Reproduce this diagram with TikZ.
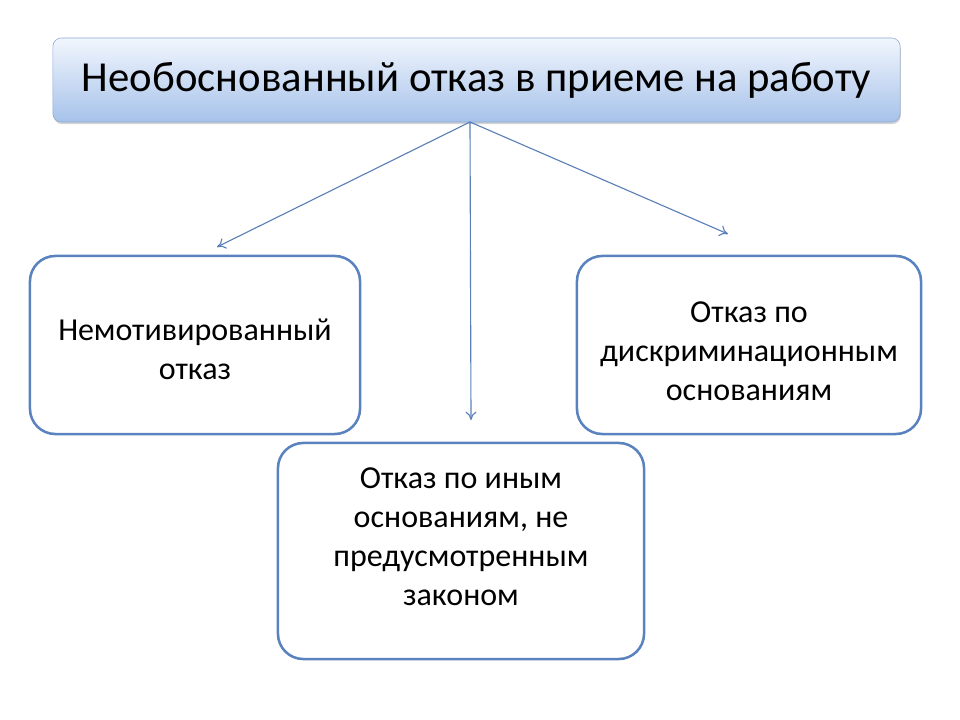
\documentclass[tikz,border=0pt]{standalone}
\usepackage{fontspec}
\setmainfont{Carlito}
\usepackage{xcolor}
\usetikzlibrary{positioning,arrows,arrows.meta,shadows}
\definecolor{frameblue}{HTML}{5A82BE}
\definecolor{lineblue}{HTML}{5B7FB8}
\definecolor{titletop}{HTML}{F2F6FD}
\definecolor{titlebot}{HTML}{A6C2EA}
\definecolor{titleline}{HTML}{8DAAD6}

\begin{document}
\begin{tikzpicture}[x=0.025cm,y=-0.025cm,
    title/.style={draw=titleline,rounded corners=6pt,top color=titletop,bottom color=titlebot,
      minimum width=21.175cm,minimum height=2.1cm,
      drop shadow={shadow xshift=0.5pt,shadow yshift=-1.5pt,opacity=0.35},
      font=\fontsize{30.4}{36}\selectfont},
    kind/.style={draw=frameblue,line width=1.8pt,rounded corners=18pt,fill=white},
    kindtext/.style={align=center,font=\fontsize{22.76}{27.7}\selectfont},
    link/.style={-{To[length=6pt,width=8pt]},draw=lineblue,line width=0.8pt}]
  \useasboundingbox (0,0) rectangle (960,720);
  \node[title] (Refusal) at (476.5,80) {Необоснованный отказ в приеме на работу};
  % boxes
  \node[kind,minimum width=8.25cm,minimum height=4.45cm] (Unmotivated) at (195,345) {};
  \node[kind,minimum width=8.6cm,minimum height=4.45cm] (Discrim) at (749,345) {};
  \node[kind,minimum width=9.15cm,minimum height=5.4cm] (Other) at (461,551) {};
  % texts
  \node[kindtext] (UnmotivatedText) at (195,349) {Немотивированный\\отказ};
  \node[kindtext] (DiscrimText) at (749,351) {Отказ по\\дискриминационным\\основаниям};
  \node[kindtext] (OtherText) at (461,537) {Отказ по иным\\основаниям, не\\предусмотренным\\законом};
  % arrows
  \coordinate (fork) at (470,122);
  \coordinate (toUnmotivated) at (217,247);
  \coordinate (toDiscrim) at (728,234);
  \coordinate (toOther) at (471,420);
  \draw[link] (fork) -- (toUnmotivated);
  \draw[link] (fork) -- (toDiscrim);
  \draw[link] (fork) -- (toOther);
\end{tikzpicture}
\end{document}
